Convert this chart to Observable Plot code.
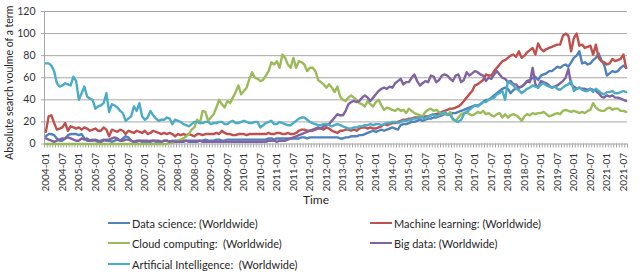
<!DOCTYPE html>
<html><head><meta charset="utf-8">
<script src="https://cdn.jsdelivr.net/npm/d3@7"></script>
<script src="https://cdn.jsdelivr.net/npm/@observablehq/plot@0.6"></script>
<style>
body{margin:0;background:#fff;font-family:Lato,sans-serif;}
#wrap{position:relative;width:640px;height:274px;overflow:hidden;background:#fff;}
#legend{position:absolute;left:0;top:212px;width:640px;height:62px;}
.item{position:absolute;height:14px;display:flex;align-items:center;font-size:11px;color:#262626;white-space:pre;}
.item .l{display:inline-block;width:22px;height:2px;margin-right:2px;}
</style></head><body><div id="wrap"><div id="chart"></div><div id="legend"></div></div>
<script>
const monthCount = 212; // 2004-01 .. 2021-08
const tickLabels = ["2004-01","2004-07","2005-01","2005-07","2006-01","2006-07","2007-01","2007-07","2008-01","2008-07","2009-01","2009-07","2010-01","2010-07","2011-01","2011-07","2012-01","2012-07","2013-01","2013-07","2014-01","2014-07","2015-01","2015-07","2016-01","2016-07","2017-01","2017-07","2018-01","2018-07","2019-01","2019-07","2020-01","2020-07","2021-01","2021-07"];
const yTicks = [0,20,40,60,80,100,120];
const yTitle = "Absolute search voulme of a term";
const xTitle = "Time";
const seriesNames = ["Data science: (Worldwide)","Machine learning: (Worldwide)","Cloud computing:  (Worldwide)","Big data: (Worldwide)","Artificial Intelligence:  (Worldwide)"];
const seriesColors = ["#4F81BD","#C0504D","#9BBB59","#8064A2","#4BACC6"];

const dataScience = [
7,9,9,8,5,3,3,5,8,9,9,9,
8,9,5,3,3,4,3,2,3,4,3,3,
2,3,4,3,5,7,6,3,2,2,3,2,
2,2,3,3,2,2,2,3,3,2,2,3,
3,3,3,3,3,3,3,3,3,3,4,3,
3,3,4,4,3,3,4,4,4,4,4,4,
4,4,4,4,4,4,4,4,4,5,5,4,
5,5,5,5,5,5,5,5,5,6,6,5,
6,6,6,6,6,6,6,6,6,6,6,5,
5,6,6,7,7,7,8,8,9,10,11,12,
11,12,13,12,13,14,15,14,13,17,18,18,
19,20,20,21,22,21,22,23,23,24,24,25,
26,27,27,27,28,28,29,30,31,32,33,34,
35,35,36,38,40,40,42,44,46,48,50,51,
50,46,49,50,51,52,54,57,58,60,61,58,
62,63,64,66,66,68,70,69,71,72,70,74,
78,80,84,73,74,72,73,76,78,82,76,72,
62,64,66,65,66,69,71,69];

const machineLearning = [
11,25,26,19,13,14,15,19,12,16,15,14,
15,13,15,14,12,13,14,12,12,15,13,7,
13,12,11,13,12,9,12,11,10,12,11,10,
12,9,10,12,11,10,9,10,9,10,9,7,
9,8,9,8,9,8,7,9,9,8,9,9,
9,9,10,9,12,10,9,9,8,8,9,9,
9,8,9,9,9,9,9,9,9,10,9,9,
10,10,9,9,10,9,9,10,12,13,13,12,
12,12,13,14,14,13,15,14,12,11,10,12,
12,13,13,12,13,12,14,15,15,14,15,14,
14,15,16,18,17,18,19,19,20,21,22,22,
23,23,24,24,24,25,25,25,26,27,27,28,
29,30,31,32,32,33,34,36,39,42,45,48,
53,54,56,58,63,62,62,66,69,72,75,76,
78,80,81,79,84,78,80,83,85,87,81,91,
86,84,86,87,88,89,90,90,98,100,98,84,
96,100,89,90,87,88,89,81,90,78,75,74,
72,73,77,75,76,77,81,69];

const cloudComputing = [
0,0,0,0,0,0,0,0,0,0,0,0,
0,0,0,0,0,0,0,0,0,0,0,0,
0,0,0,0,0,0,0,0,0,0,0,0,
0,0,0,0,0,0,0,0,0,1,1,2,
3,4,5,7,9,13,15,22,19,30,29,21,
24,27,33,40,36,33,39,37,42,47,53,45,
48,51,59,65,60,59,57,58,62,66,74,72,
75,69,81,78,72,69,78,69,75,74,72,66,
69,69,66,58,56,54,51,54,51,47,52,43,
40,39,42,44,42,40,37,36,34,39,36,34,
38,40,35,31,33,32,31,30,32,30,31,28,
32,30,28,27,26,25,29,31,32,30,31,29,
27,28,26,29,22,21,24,27,28,29,27,26,
27,29,28,30,27,28,26,25,27,28,24,27,
24,26,27,26,24,21,25,27,26,28,27,28,
28,29,27,25,26,27,28,27,30,31,30,29,
30,29,28,29,28,30,31,37,33,31,30,30,
32,33,31,32,32,30,30,29];

const bigData = [
5,4,3,2,3,4,5,5,6,5,4,3,
3,5,4,5,3,3,4,3,2,3,4,4,
5,6,5,3,3,4,4,3,2,3,3,3,
3,3,2,3,3,3,2,3,3,2,3,2,
2,2,2,3,2,2,2,2,3,2,2,2,
2,2,2,2,2,2,2,2,2,2,2,2,
2,2,2,2,2,2,2,2,2,3,3,3,
2,3,3,3,4,5,6,7,8,9,10,11,
12,13,14,15,14,16,17,18,21,24,27,26,
26,30,36,38,39,38,39,42,44,42,39,42,
45,48,50,51,50,52,51,55,57,59,54,56,
56,60,63,57,53,55,57,56,62,61,56,58,
62,63,62,59,57,62,63,56,58,65,62,64,
66,65,63,62,57,60,59,63,66,63,60,59,
56,57,54,54,51,52,54,57,56,69,54,51,
57,56,55,53,51,52,53,55,57,60,68,54,
52,50,51,50,50,49,50,49,48,46,43,42,
44,43,44,42,42,41,40,39];

const artificialIntelligence = [
73,73,71,66,55,52,53,55,54,53,61,57,
40,46,52,43,41,40,32,34,35,37,46,29,
36,35,33,30,28,21,23,25,34,30,37,25,
22,24,30,26,23,21,22,22,24,23,18,22,
21,20,18,17,16,18,20,20,19,19,20,20,
18,19,19,20,20,18,18,20,21,19,19,20,
21,20,19,19,20,20,15,17,19,20,21,18,
18,20,19,18,17,17,19,21,23,24,24,22,
20,19,18,17,17,18,18,17,16,17,18,17,
16,15,14,14,15,15,16,16,17,17,18,17,
18,18,17,18,19,19,20,20,19,20,21,21,
22,22,23,23,24,24,23,25,26,27,25,26,
28,29,27,26,23,21,20,22,27,29,31,33,
35,34,36,38,38,40,41,42,45,46,48,40,
57,55,53,50,49,46,48,50,51,53,52,51,
54,55,53,52,51,52,50,49,51,53,54,57,
48,50,51,49,48,48,50,47,50,48,46,45,
47,47,48,46,46,47,48,47];

const seriesValues = [dataScience, machineLearning, cloudComputing, bigData, artificialIntelligence];

const rows = [];
seriesNames.forEach((name, s) => seriesValues[s].forEach((v, i) => rows.push({series: name, i, v})));
const boundaries = d3.range(-0.5, monthCount, 1);
const labelIdx = tickLabels.map((_, k) => k * 6);
const grey = "#a6a6a6";

const chart = Plot.plot({
  width: 640, height: 212,
  marginLeft: 44, marginRight: 13, marginTop: 11, marginBottom: 68.5,
  style: {fontFamily: "Lato, sans-serif", fontSize: "10px", color: "#333", background: "white"},
  x: {domain: [-0.5, monthCount - 0.5]},
  y: {domain: [0, 120]},
  color: {domain: seriesNames, range: seriesColors},
  marks: [
    Plot.ruleY(yTicks.filter(d => d > 0), {stroke: grey, strokeWidth: 1}),
    Plot.ruleY([0], {stroke: grey, strokeWidth: 1}),
    Plot.ruleX([-0.5], {stroke: grey, strokeWidth: 1}),
    Plot.axisY(yTicks, {tickSize: 3, tickPadding: 6, label: null, fontSize: 10.5, fill: "#333", stroke: grey}),
    Plot.axisX(boundaries, {tickSize: 4, tickFormat: () => "", label: null, stroke: grey}),
    Plot.axisX(labelIdx, {tickSize: 0, tickRotate: -90, tickPadding: 9, tickFormat: d => tickLabels[d / 6], label: null, fill: "#333"}),
    Plot.lineY(rows, {x: "i", y: "v", z: "series", stroke: "series", strokeWidth: 2.4}),
    Plot.text([yTitle], {frameAnchor: "left", textAnchor: "middle", rotate: -90, dx: -35, dy: 5, fontSize: 10.5, fill: "#262626"}),
    Plot.text([xTitle], {frameAnchor: "bottom", textAnchor: "middle", dy: 60, dx: -20, fontSize: 12, fill: "#262626"})
  ]
});
document.getElementById("chart").appendChild(chart);

const legend = document.getElementById("legend");
const legendPos = [[108, 4], [370, 4], [108, 24], [370, 24], [108, 45]];
seriesNames.forEach((name, s) => {
  const it = document.createElement("div");
  it.className = "item";
  it.style.left = legendPos[s][0] + "px";
  it.style.top = legendPos[s][1] + "px";
  const l = document.createElement("span");
  l.className = "l";
  l.style.background = seriesColors[s];
  it.appendChild(l);
  it.appendChild(document.createTextNode(name));
  legend.appendChild(it);
});
</script></body></html>
